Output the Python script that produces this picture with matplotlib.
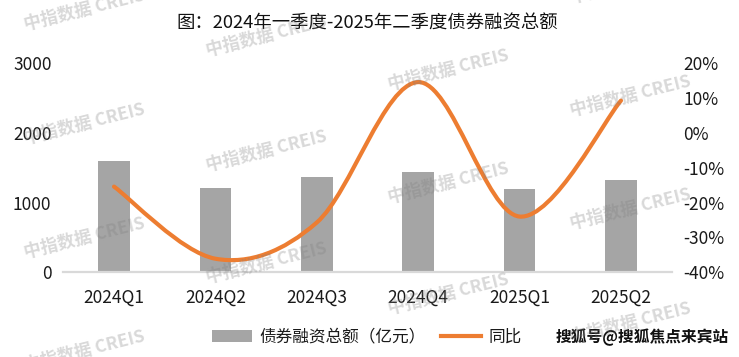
import matplotlib
matplotlib.use("Agg")
import matplotlib.pyplot as plt
from matplotlib.path import Path
from matplotlib.patches import PathPatch, Patch
from matplotlib.lines import Line2D
from matplotlib.ticker import FuncFormatter, FixedLocator
import numpy as np

plt.rcParams['font.family'] = ['Noto Sans CJK SC', 'DejaVu Sans']

categories = ['2024Q1', '2024Q2', '2024Q3', '2024Q4', '2025Q1', '2025Q2']
amount = [1598, 1210, 1368, 1440, 1196, 1325]          # 债券融资总额（亿元）
yoy = [-15.4, -36.1, -25.7, 14.6, -24.0, 9.3]          # 同比 (%)
left_ticks = [0, 1000, 2000, 3000]
right_ticks = [-40, -30, -20, -10, 0, 10, 20]

title = '图：2024年一季度-2025年二季度债券融资总额'
bar_label = '债券融资总额（亿元）'
line_label = '同比'
source = '搜狐号@搜狐焦点来宾站'
watermark = '中指数据 CREIS'

W, H = 739, 357
fig = plt.figure(figsize=(W / 100, H / 100), dpi=100)
ax_l, ax_r, ax_t, ax_b = 63.3, 671.7, 63.3, 272.3
ax = fig.add_axes([ax_l / W, 1 - ax_b / H, (ax_r - ax_l) / W, (ax_b - ax_t) / H])

bar_color = '#A5A5A5'
line_color = '#ED7D31'
x = np.arange(len(categories))
ax.bar(x, amount, width=0.31, color=bar_color, zorder=2)
ax.set_xlim(-0.5, len(categories) - 0.5)
ax.set_ylim(0, 3000)
ax.yaxis.set_major_locator(FixedLocator(left_ticks))
ax.set_xticks(x)
ax.set_xticklabels(categories)
for s in ['top', 'right', 'left']:
    ax.spines[s].set_visible(False)
ax.spines['bottom'].set_color('#D9D9D9')
ax.spines['bottom'].set_linewidth(1.6)
ax.tick_params(axis='both', length=0, labelsize=12.5, colors='#1a1a1a')
ax.tick_params(axis='y', pad=8.5)
ax.tick_params(axis='x', pad=12)

ax2 = ax.twinx()
ax2.set_ylim(-40, 20)
ax2.yaxis.set_major_locator(FixedLocator(right_ticks))
ax2.yaxis.set_major_formatter(FuncFormatter(lambda v, p: f'{int(v)}%'))
for s in ['top', 'right', 'left', 'bottom']:
    ax2.spines[s].set_visible(False)
ax2.tick_params(axis='y', length=0, labelsize=12.5, colors='#1a1a1a', pad=8.5)

# smoothed line (Excel-like cubic Bezier through data points)
pts = np.column_stack([x, yoy]).astype(float)
n = len(pts)
verts = [tuple(pts[0])]
codes = [Path.MOVETO]
for i in range(n - 1):
    p0 = pts[i - 1] if i > 0 else pts[i]
    p1 = pts[i]
    p2 = pts[i + 1]
    p3 = pts[i + 2] if i + 2 < n else pts[i + 1]
    c1 = p1 + (p2 - p0) / 6.0
    c2 = p2 - (p3 - p1) / 6.0
    verts += [tuple(c1), tuple(c2), tuple(p2)]
    codes += [Path.CURVE4] * 3
patch = PathPatch(Path(verts, codes), facecolor='none', edgecolor=line_color,
                  lw=3.0, capstyle='round', joinstyle='round', zorder=3)
ax2.add_patch(patch)

# title
fig.text(367 / W, 1 - 24 / H, title, ha='center', va='center', fontsize=13.2, color='#111111')

# legend
handles = [Patch(facecolor=bar_color, edgecolor='none'),
           Line2D([], [], color=line_color, lw=3.0)]
fig.legend(handles, [bar_label, line_label], loc='center', ncol=2,
           bbox_to_anchor=(366.5 / W, 1 - 337 / H), frameon=False,
           fontsize=12, handlelength=2.4, handleheight=0.7, handletextpad=0.45,
           columnspacing=0.9, labelcolor='#1a1a1a')

fig.text(556 / W, 1 - 337 / H, source, ha='left', va='center', fontsize=11.3,
         fontweight='bold', color='#111111')

# watermarks
wm_centers = [(84, 10), (84, 124), (84, 238), (84, 351),
              (266, 36), (266, 151), (266, 263),
              (448, 70), (448, 183), (448, 294),
              (630, -17), (630, 96), (630, 209), (630, 323)]
for cx, cy in wm_centers:
    fig.text(cx / W, 1 - cy / H, watermark, ha='center', va='center',
             rotation=14, rotation_mode='anchor', fontsize=12.5, fontweight='bold',
             color='#808080', alpha=0.3, zorder=10)

fig.savefig('out.png', dpi=100)
